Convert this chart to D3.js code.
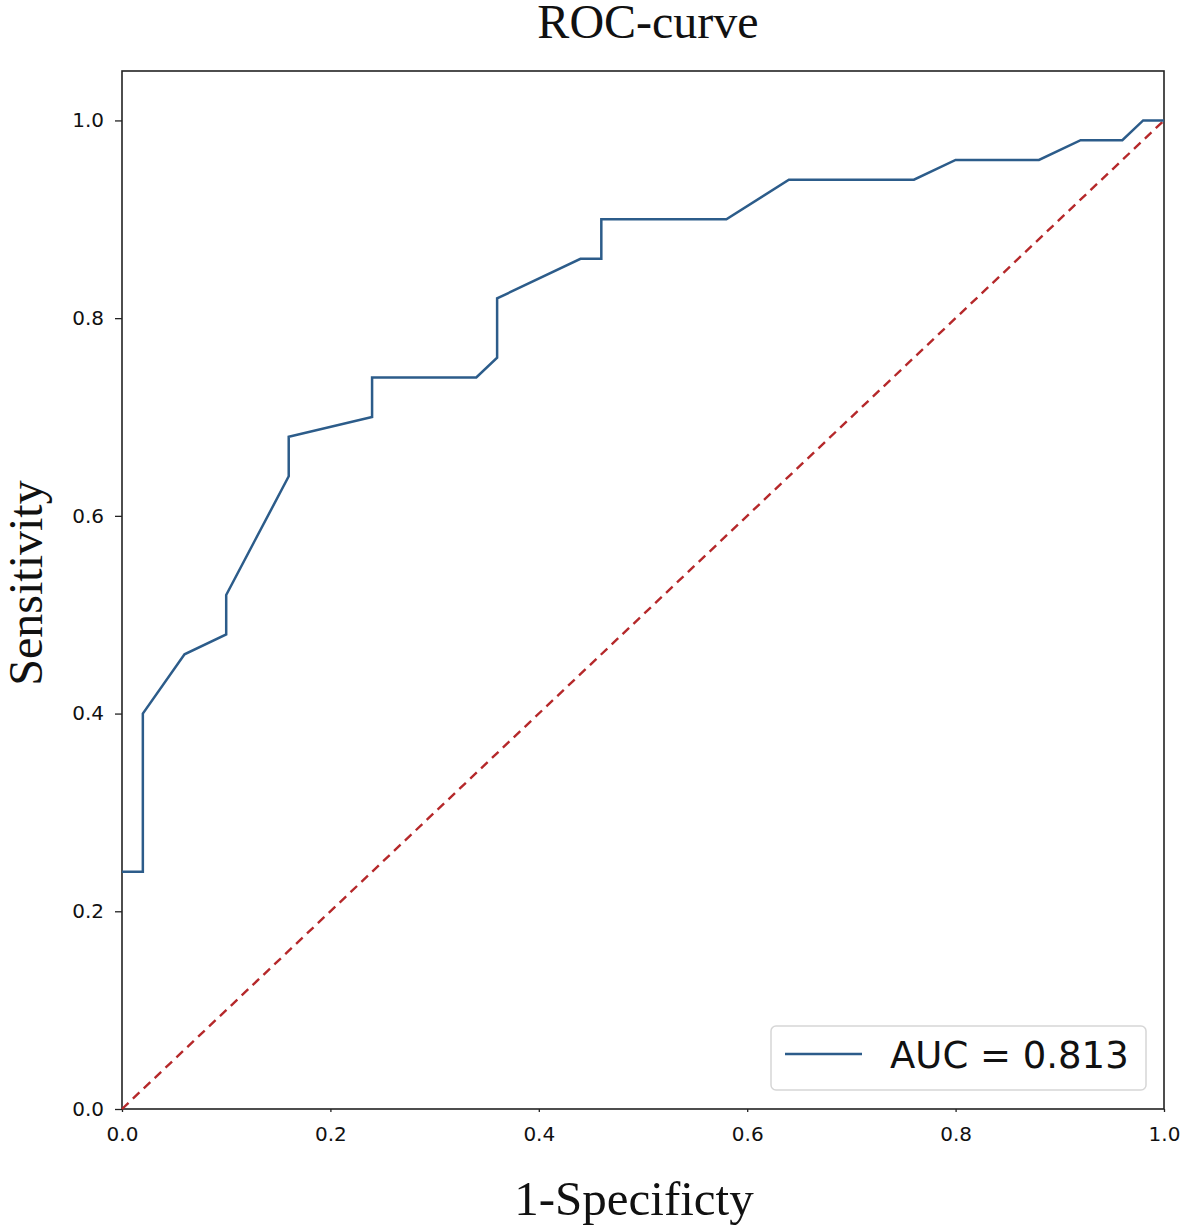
<!DOCTYPE html>
<html><head><meta charset="utf-8">
<script src="https://cdn.jsdelivr.net/npm/d3@7"></script>
<style>body{margin:0;background:#fff}</style>
</head><body>
<svg id="c" width="1181" height="1230"></svg>
<script>
const fpr = [0, 0.02, 0.02, 0.06, 0.10, 0.10, 0.16, 0.16, 0.24, 0.24, 0.34, 0.36, 0.36, 0.44, 0.46, 0.46, 0.58, 0.64, 0.76, 0.80, 0.88, 0.92, 0.96, 0.98, 1.0];
const tpr = [0.24, 0.24, 0.40, 0.46, 0.48, 0.52, 0.64, 0.68, 0.70, 0.74, 0.74, 0.76, 0.82, 0.86, 0.86, 0.90, 0.90, 0.94, 0.94, 0.96, 0.96, 0.98, 0.98, 1.0, 1.0];
const chanceX = [0, 1];
const chanceY = [0, 1];
const xTicks = [0, 0.2, 0.4, 0.6, 0.8, 1.0];
const yTicks = [0, 0.2, 0.4, 0.6, 0.8, 1.0];
const legendLabel = "AUC = 0.813";

const svg = d3.select("#c");
const L = 122, R = 1164, T = 71, B = 1109;
const x = d3.scaleLinear().domain([0, 1]).range([L, R]);
const y = d3.scaleLinear().domain([0, 1.05]).range([B, T]);

// frame
svg.append("rect").attr("x", L).attr("y", T).attr("width", R - L).attr("height", B - T)
  .attr("fill", "none").attr("stroke", "#222").attr("stroke-width", 1.6);

// axes
const yAxis = svg.append("g").attr("transform", `translate(${L},0)`)
  .call(d3.axisLeft(y).tickValues(yTicks).tickFormat(d3.format(".1f")).tickSize(7).tickPadding(11));
const xAxis = svg.append("g").attr("transform", `translate(0,${B})`)
  .call(d3.axisBottom(x).tickValues(xTicks).tickFormat(d3.format(".1f")).tickSize(3).tickPadding(15));
[yAxis, xAxis].forEach(a => {
  a.select(".domain").remove();
  a.selectAll("line").attr("stroke", "#222").attr("stroke-width", 1.3);
  a.selectAll("text").attr("font-family", "DejaVu Sans").attr("font-size", 20).attr("fill", "#111");
});

// chance line
svg.append("path")
  .attr("d", d3.line()(chanceX.map((v, i) => [x(v), y(chanceY[i])])))
  .attr("fill", "none").attr("stroke", "#b5282a").attr("stroke-width", 2.4)
  .attr("stroke-dasharray", "9,6");

// ROC curve
svg.append("path")
  .attr("d", d3.line()(fpr.map((v, i) => [x(v), y(tpr[i])])))
  .attr("fill", "none").attr("stroke", "#2c5c8a").attr("stroke-width", 2.5)
  .attr("stroke-linejoin", "miter");

// legend
const lg = svg.append("g");
lg.append("rect").attr("x", 771).attr("y", 1026).attr("width", 375).attr("height", 64)
  .attr("rx", 5).attr("fill", "#fff").attr("stroke", "#d6d6d6").attr("stroke-width", 1.5);
lg.append("line").attr("x1", 785).attr("x2", 862).attr("y1", 1054).attr("y2", 1054)
  .attr("stroke", "#2c5c8a").attr("stroke-width", 2.5);
lg.append("text").attr("x", 890).attr("y", 1068).text(legendLabel)
  .attr("font-family", "DejaVu Sans").attr("font-size", 37).attr("fill", "#111");

// titles
svg.append("text").attr("x", 648).attr("y", 38).attr("text-anchor", "middle")
  .attr("font-family", "Liberation Serif").attr("font-size", 48).attr("fill", "#111").text("ROC-curve");
svg.append("text").attr("x", 634).attr("y", 1215).attr("text-anchor", "middle")
  .attr("font-family", "Liberation Serif").attr("font-size", 49).attr("fill", "#111").text("1-Specificty");
svg.append("text").attr("transform", "translate(42,583) rotate(-90)").attr("text-anchor", "middle")
  .attr("font-family", "Liberation Serif").attr("font-size", 48).attr("fill", "#111").text("Sensitivity");
</script>
</body></html>
